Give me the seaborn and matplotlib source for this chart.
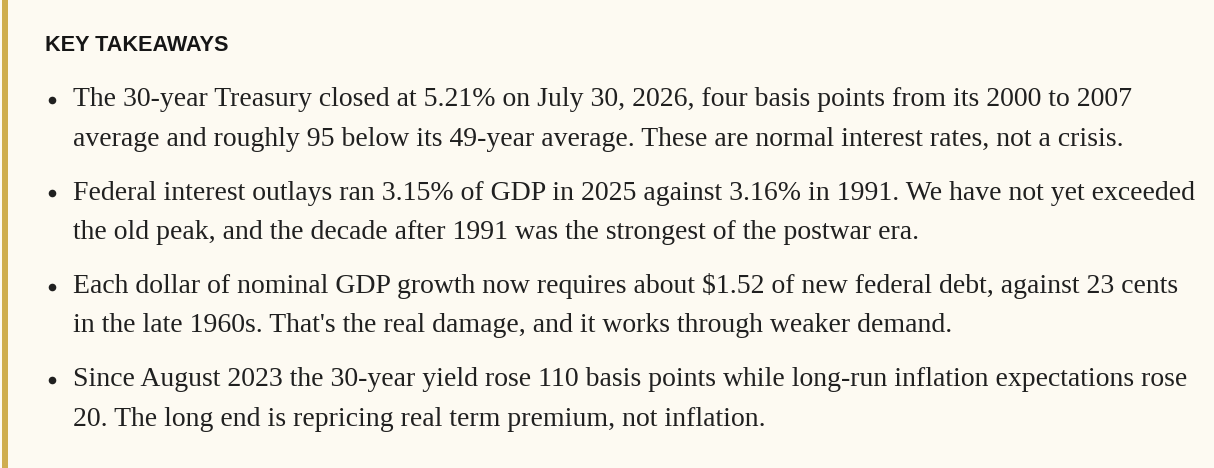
import matplotlib
matplotlib.use("Agg")
import matplotlib.pyplot as plt
import seaborn as sns

# ---- content ----
title = "KEY TAKEAWAYS"
bullet_lines = [
    ["The 30-year Treasury closed at 5.21% on July 30, 2026, four basis points from its 2000 to 2007",
     "average and roughly 95 below its 49-year average. These are normal interest rates, not a crisis."],
    ["Federal interest outlays ran 3.15% of GDP in 2025 against 3.16% in 1991. We have not yet exceeded",
     "the old peak, and the decade after 1991 was the strongest of the postwar era."],
    ["Each dollar of nominal GDP growth now requires about $1.52 of new federal debt, against 23 cents",
     "in the late 1960s. That's the real damage, and it works through weaker demand."],
    ["Since August 2023 the 30-year yield rose 110 basis points while long-run inflation expectations rose",
     "20. The long end is repricing real term premium, not inflation."],
]
# target right edges (px) of the first line of each bullet, as seen in the reference
first_line_right = [1142, 1178, 1177, 1188]

sns.set_theme(style="white")
plt.rcParams["font.family"] = ["Liberation Serif", "DejaVu Serif"]

W, H, DPI = 1214, 468, 100
BG = "#fdfaf2"
GOLD = "#cfae4f"
INK = "#202020"

fig = plt.figure(figsize=(W / DPI, H / DPI), dpi=DPI, facecolor=BG)
ax = fig.add_axes([0, 0, 1, 1])
ax.set_xlim(0, W)
ax.set_ylim(H, 0)
ax.axis("off")
ax.set_facecolor(BG)

# gold left rule
ax.axvspan(2, 8, color=GOLD, lw=0)

renderer = fig.canvas.get_renderer()


def width_px(txt, **kw):
    t = ax.text(0, 0, txt, fontsize=10, **kw)
    w = t.get_window_extent(renderer=renderer).width
    t.remove()
    return w


# title sized to match reference width (45 -> 228)
tkw = dict(family=["Liberation Sans", "DejaVu Sans"], weight="bold")
tsize = 10 * 183 / width_px(title, **tkw)
ax.text(45, 51, title, fontsize=tsize, color="#161616", va="baseline", ha="left", **tkw)

# body size from average fit of full-width first lines
bkw = dict(family=["Liberation Serif", "DejaVu Serif"])
ratios = []
for lines, right in zip(bullet_lines, first_line_right):
    ratios.append((right - 73) / width_px(lines[0], **bkw))
bsize = 10 * sum(ratios) / len(ratios)

base0 = 106
bullet_step = 93.5
line_step = 39.5
for i, lines in enumerate(bullet_lines):
    y0 = base0 + i * bullet_step
    ax.scatter([52], [y0 - 6.5], s=30, color=INK, zorder=3, linewidths=0)
    for j, ln in enumerate(lines):
        ax.text(73, y0 + j * line_step, ln, fontsize=bsize, color=INK,
                va="baseline", ha="left", **bkw)

fig.savefig("out.png", dpi=DPI, facecolor=BG)
